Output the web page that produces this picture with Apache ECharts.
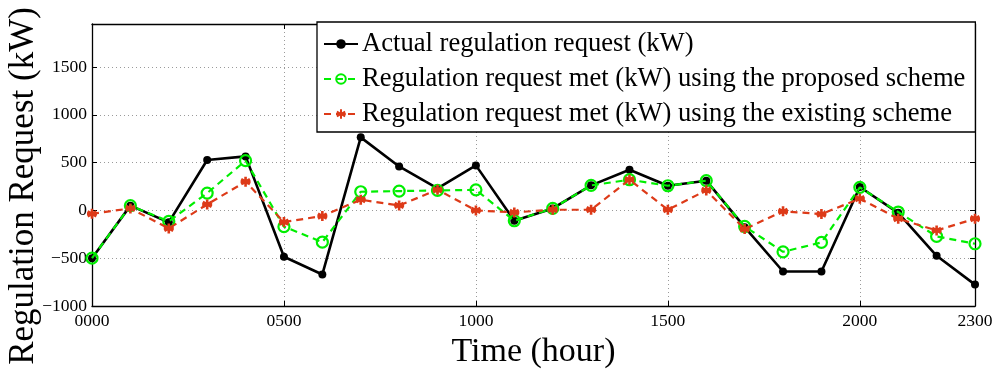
<!DOCTYPE html>
<html>
<head>
<meta charset="utf-8">
<script src="https://cdn.jsdelivr.net/npm/echarts@6/dist/echarts.min.js"></script>
<style>
  html, body { margin: 0; padding: 0; background: #fff; }
  #chart { width: 996px; height: 369px; }
</style>
</head>
<body>
<div id="chart"></div>
<script>
// Hour of day (0 = 0000 ... 23 = 2300)
const hours = [0,1,2,3,4,5,6,7,8,9,10,11,12,13,14,15,16,17,18,19,20,21,22,23];

// Actual regulation request (kW)
const actualRequest = [-500, 50, -125, 527, 565, -485, -670, 764, 460, 230, 471, -108, 21, 262, 426, 258, 311, -175, -639, -639, 245, -25, -475, -776];

// Regulation request met (kW), proposed scheme
const proposedMet = [-500, 50, -115, 181, 520, -170, -332, 195, 202, 209, 215, -108, 21, 262, 321, 258, 311, -168, -433, -335, 241, -17, -272, -349];

// Regulation request met (kW), existing scheme
const existingMet = [-35, 21, -188, 63, 300, -122, -59, 112, 52, 216, 0, -21, 7, 7, 321, 7, 209, -195, -10, -38, 123, -87, -210, -87];

// Labelled x ticks (hours) and y ticks (kW)
const xTickHours = [0, 5, 10, 15, 20, 23];
const yTicks = [-1000, -500, 0, 500, 1000, 1500];

const seriesNames = [
  'Actual regulation request (kW)',
  'Regulation request met (kW) using the proposed scheme',
  'Regulation request met (kW) using the existing scheme'
];
const xTitle = 'Time (hour)';
const yTitle = 'Regulation Request (kW)';

const FONT = '"Liberation Serif", "DejaVu Serif", serif';
const pair = arr => hours.map((h, i) => [h, arr[i]]);
const hourLabel = v => String(v * 100).padStart(4, '0');
const kwLabel = v => (v < 0 ? '\u2212' + Math.abs(v) : String(v));

const gridLine = { show: true, lineStyle: { color: '#9a9a9a', type: [1, 3], width: 1 } };
const frameLine = { show: true, onZero: false, lineStyle: { color: '#000', width: 1.3 } };
const tickIn = { show: true, inside: true, length: 5, lineStyle: { color: '#000', width: 1 } };

const asterisk = 'path://M0,-10L0,10M-8.66,-5L8.66,5M-8.66,5L8.66,-5M-10,0L10,0';

const chart = echarts.init(document.getElementById('chart'), null, { renderer: 'canvas' });

chart.setOption({
  animation: false,
  backgroundColor: '#fff',
  textStyle: { fontFamily: FONT },
  grid: { left: 92, right: 21, top: 24, bottom: 63, containLabel: false, outerBoundsMode: 'none' },
  graphic: [
    {
      type: 'text',
      x: 24,
      y: 186,
      rotation: Math.PI / 2,
      style: {
        text: yTitle,
        font: '35px ' + FONT,
        fill: '#000',
        align: 'center',
        verticalAlign: 'middle'
      }
    }
  ],
  legend: {
    orient: 'vertical',
    left: 317,
    top: 22,
    width: 650,
    padding: [7, 10, 3, 6],
    itemWidth: 34,
    itemHeight: 12,
    itemGap: 5,
    backgroundColor: '#fff',
    borderColor: '#000',
    borderWidth: 1.3,
    borderRadius: 0,
    textStyle: { fontFamily: FONT, fontSize: 26.6, color: '#000', lineHeight: 30, padding: [0, 0, 0, -1] },
    data: seriesNames
  },
  xAxis: [
    {
      type: 'value',
      min: 0,
      max: 23,
      interval: 5,
      name: xTitle,
      nameLocation: 'middle',
      nameGap: 20,
      nameTextStyle: { fontFamily: FONT, fontSize: 34, color: '#000' },
      axisLine: frameLine,
      axisTick: tickIn,
      splitLine: gridLine,
      axisLabel: {
        fontFamily: FONT, fontSize: 17.5, color: '#000', margin: 6,
        showMinLabel: true, showMaxLabel: true,
        formatter: v => (xTickHours.indexOf(v) >= 0 ? hourLabel(v) : '')
      }
    },
    {
      type: 'value', position: 'top', min: 0, max: 23, interval: 5,
      axisLine: frameLine, axisTick: tickIn, axisLabel: { show: false }, splitLine: { show: false }
    }
  ],
  yAxis: [
    {
      type: 'value',
      min: -1000,
      max: 1950,
      interval: 500,
      axisLine: frameLine,
      axisTick: tickIn,
      splitLine: gridLine,
      axisLabel: {
        fontFamily: FONT, fontSize: 17.5, color: '#000', margin: 5,
        showMaxLabel: false,
        formatter: v => (yTicks.indexOf(v) >= 0 ? kwLabel(v) : '')
      }
    },
    {
      type: 'value', position: 'right', min: -1000, max: 1950, interval: 500,
      axisLine: frameLine, axisTick: tickIn, axisLabel: { show: false }, splitLine: { show: false }
    }
  ],
  series: [
    {
      name: seriesNames[0],
      type: 'line',
      data: pair(actualRequest),
      z: 3,
      symbol: 'circle',
      symbolSize: 8,
      lineStyle: { color: '#000', width: 2.6, type: 'solid' },
      itemStyle: { color: '#000' }
    },
    {
      name: seriesNames[1],
      type: 'line',
      data: pair(proposedMet),
      z: 4,
      symbol: 'circle',
      symbolSize: 11,
      lineStyle: { color: '#00ee00', width: 2.2, type: [7, 5] },
      itemStyle: { color: 'rgba(255,255,255,0)', borderColor: '#00ee00', borderWidth: 2.2 }
    },
    {
      name: seriesNames[2],
      type: 'line',
      data: pair(existingMet),
      z: 5,
      symbol: asterisk,
      symbolSize: 10,
      lineStyle: { color: '#dd3a18', width: 2.2, type: [7, 5] },
      itemStyle: { color: '#dd3a18', borderColor: '#dd3a18', borderWidth: 2.6 }
    }
  ]
});
</script>
</body>
</html>
